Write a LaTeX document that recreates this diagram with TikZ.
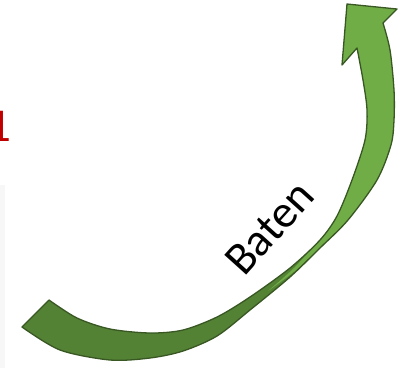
\documentclass[tikz,border=0pt]{standalone}
\usepackage{fontspec}
\newfontfamily\carlito{Carlito}
\definecolor{gdark}{HTML}{548235}
\definecolor{glight}{HTML}{70AD47}
\definecolor{gline}{HTML}{385723}
\definecolor{redtxt}{HTML}{C00000}
\newcommand{\ribbonoutline}{%
  plot[smooth] coordinates {(49,300) (77,318) (110,329) (150,333) (183,330) (217,317) (250,297) (290,268) (320,240) (337,216) (352,180) (365,140) (367,110) (363,80) (357,48)}
  -- (342,65) -- (347,4) -- (397,9) -- (383,23)
  -- plot[smooth] coordinates {(383,23) (390,50) (394,90) (394,120) (391,145) (377,180) (348,220) (320,248) (290,277) (250,310) (217,336) (183,351) (150,358) (110,360) (60,350) (22,327)} -- cycle}
\begin{document}
\begin{tikzpicture}[x=1pt,y=-1pt,
  band/.style={draw=gline, line width=1.3pt, line join=round}]
\useasboundingbox (0,0) rectangle (398,368);
\fill[black!3] (0,185) rectangle (5,368);
\node[text=redtxt, font=\carlito\fontsize{47}{47}\selectfont, anchor=base east, inner sep=0pt] (one) at (11.5,141) {1};
% ribbon: dark back face
\fill[gdark] \ribbonoutline;
% light front face with the head
\begin{scope}
  \clip \ribbonoutline;
  \fill[glight] plot[smooth] coordinates {(268,291) (295,267) (318,240) (332,216) (346,180) (358,140) (362,110)}
    -- (335,70) -- (335,0) -- (398,0) -- (398,130)
    -- plot[smooth] coordinates {(396,140) (384,183) (353,222) (321,247) (295,271) (268,291)} -- cycle;
\end{scope}
\draw[band] \ribbonoutline;
\node[font=\carlito\fontsize{46}{46}\selectfont, rotate=48, anchor=base west, inner sep=0pt] (lbl) at (244,278) {Baten};
\end{tikzpicture}
\end{document}
